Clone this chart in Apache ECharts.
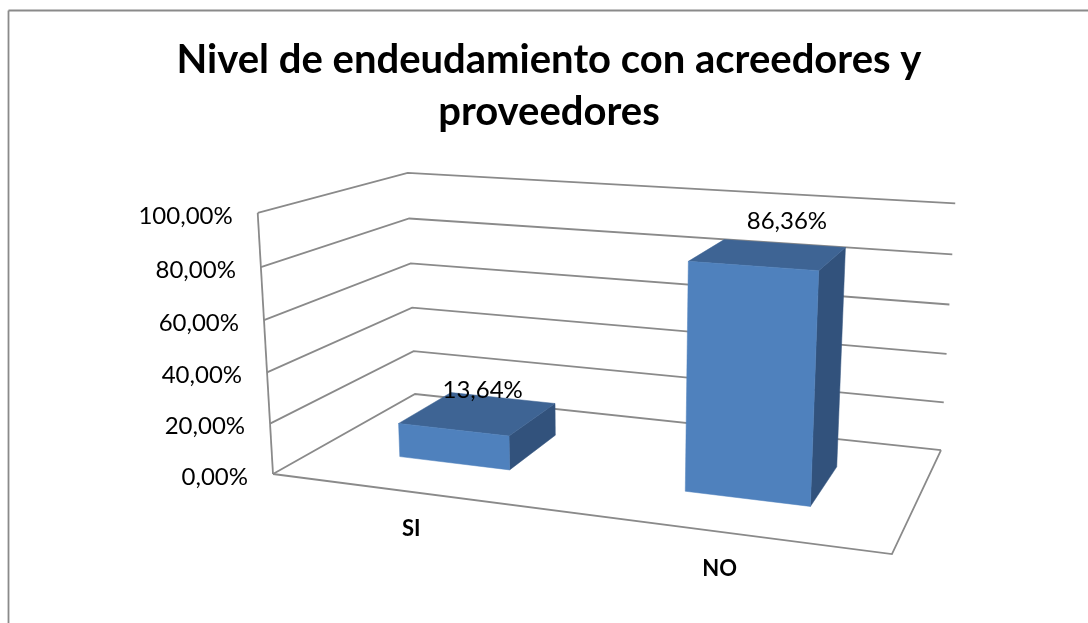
<!DOCTYPE html>
<html>
<head>
<meta charset="utf-8">
<style>html,body{margin:0;padding:0;background:#fff}#c{width:1088px;height:623px}</style>
<script src="https://cdn.jsdelivr.net/npm/echarts@6/dist/echarts.min.js"></script>
</head>
<body>
<div id="c"></div>
<script>
// ---- data ----
var categories = ['SI', 'NO'];
var values = [13.64, 86.36];
var valueLabels = ['13,64%', '86,36%'];
var yTicks = [0, 20, 40, 60, 80, 100];
var yTickLabels = ['0,00%', '20,00%', '40,00%', '60,00%', '80,00%', '100,00%'];
var titleText = 'Nivel de endeudamiento con acreedores y\nproveedores';

// ---- style ----
var GRID_COLOR = '#8a8a8a', FRONT = '#4F81BD', TOP = '#3E6494', SIDE = '#32527C';
var FONT = 'Lato';
var GAP = 1.5;                 // gap width / gap depth of the 3D bars
var LABEL_NUDGE = [[4, -23], [18, -33]];

// perspective camera: unit box (u across, v up, w deep) to screen pixels
var CAM = {a: 503.8, b: 220.4, p: -26.5, c: 273,
           d: 8.5, e: -5.6, q: -270.3, f: 474,
           g: -0.1291, h: 0.1888, k: -0.0435};
function project(u, v, w) {
  var n = 1 + CAM.g * u + CAM.h * w + CAM.k * v;
  return [(CAM.a * u + CAM.b * w + CAM.p * v + CAM.c) / n,
          (CAM.d * u + CAM.e * w + CAM.q * v + CAM.f) / n];
}
// cartesian pixel (hidden grid) to unit box coordinates
function unit(params, pt) {
  var s = params.coordSys;
  return [(pt[0] - s.x) / s.width, (s.y + s.height - pt[1]) / s.height];
}
function stroke() {
  return {stroke: GRID_COLOR, lineWidth: 1.8, fill: null};
}
function poly(points, fill) {
  return {type: 'polygon', shape: {points: points},
          style: {fill: fill, stroke: fill, lineWidth: 0.5}};
}

function renderGrid(params, api) {
  var t = api.value(0);
  var v = unit(params, api.coord([0, t]))[1];
  var pts = [project(0, v, 0), project(0, v, 1), project(1, v, 1)];
  var children = [{type: 'polyline', shape: {points: pts}, style: stroke()}];
  if (params.dataIndex === 0) {
    children.push({type: 'polyline',
      shape: {points: [project(0, v, 0), project(1, v, 0), project(1, v, 1)]}, style: stroke()});
    var vTop = unit(params, api.coord([0, yTicks[yTicks.length - 1]]))[1];
    children.push({type: 'line', shape: {
      x1: project(0, v, 0)[0], y1: project(0, v, 0)[1],
      x2: project(0, vTop, 0)[0], y2: project(0, vTop, 0)[1]}, style: stroke()});
  }
  return {type: 'group', children: children};
}

function renderTick(params, api) {
  var v = unit(params, api.coord([0, api.value(0)]))[1];
  var p = project(0, v, 0);
  return {type: 'text', x: p[0] - 25, y: p[1] + 3, style: {
    text: yTickLabels[params.dataIndex], fontFamily: FONT, fontSize: 24,
    fill: '#000', align: 'right', verticalAlign: 'middle'}};
}

function renderBar(params, api) {
  var i = api.value(0), val = api.value(1);
  var c = api.coord([i, val]);
  var band = api.size([1, 0])[0];
  var half = band / (1 + GAP) / 2;
  var u0 = unit(params, [c[0] - half, 0])[0], u1 = unit(params, [c[0] + half, 0])[0];
  var v = unit(params, c)[1];
  var d = 1 / (1 + GAP) / 2, w0 = 0.5 - d, w1 = 0.5 + d;
  return {type: 'group', children: [
    poly([project(u1, 0, w0), project(u1, 0, w1), project(u1, v, w1), project(u1, v, w0)], SIDE),
    poly([project(u0, v, w0), project(u1, v, w0), project(u1, v, w1), project(u0, v, w1)], TOP),
    poly([project(u0, 0, w0), project(u1, 0, w0), project(u1, v, w0), project(u0, v, w0)], FRONT)
  ]};
}

function renderValue(params, api) {
  var i = api.value(0), c = api.coord([i, api.value(1)]), uv = unit(params, c);
  var p = project(uv[0], uv[1], 0.5), n = LABEL_NUDGE[i];
  return {type: 'text', x: p[0] + n[0], y: p[1] + n[1], style: {
    text: valueLabels[i], fontFamily: FONT, fontSize: 24, fill: '#000',
    align: 'center', verticalAlign: 'middle'}};
}

function renderCategory(params, api) {
  var i = api.value(0), uv = unit(params, api.coord([i, 0]));
  var p = project(uv[0], 0, 0);
  return {type: 'text', x: p[0] - 1, y: p[1] + 37, style: {
    text: categories[i], fontFamily: FONT, fontSize: 22, fontWeight: 'bold', fill: '#000',
    align: 'center', verticalAlign: 'middle'}};
}

var barData = values.map(function (v, i) { return [i, v]; });
var chart = echarts.init(document.getElementById('c'), null, {renderer: 'canvas'});
chart.setOption({
  animation: false,
  backgroundColor: '#ffffff',
  title: {
    text: titleText, left: 544, top: 29, textAlign: 'center',
    textStyle: {fontFamily: FONT, fontSize: 40, fontWeight: 'bold', color: '#000', lineHeight: 52}
  },
  grid: {left: 100, top: 100, width: 800, height: 400},
  xAxis: {type: 'category', data: categories, show: false},
  yAxis: {type: 'value', min: 0, max: 100, interval: 20, show: false},
  graphic: [
    {type: 'line', silent: true, shape: {x1: 8.5, y1: 10.5, x2: 1088, y2: 10.5}, style: {stroke: GRID_COLOR, lineWidth: 1.8}},
    {type: 'line', silent: true, shape: {x1: 8.5, y1: 10.5, x2: 8.5, y2: 623}, style: {stroke: GRID_COLOR, lineWidth: 1.8}}
  ],
  series: [
    {type: 'custom', silent: true, z: 1, renderItem: renderGrid, data: yTicks.map(function (t) { return [t]; }), encode: {y: 0}},
    {type: 'custom', silent: true, z: 2, renderItem: renderBar, data: barData, encode: {x: 0, y: 1}},
    {type: 'custom', silent: true, z: 3, renderItem: renderTick, data: yTicks.map(function (t) { return [t]; }), encode: {y: 0}},
    {type: 'custom', silent: true, z: 3, renderItem: renderValue, data: barData, encode: {x: 0, y: 1}},
    {type: 'custom', silent: true, z: 3, renderItem: renderCategory, data: barData, encode: {x: 0, y: 1}}
  ]
});
</script>
</body>
</html>
